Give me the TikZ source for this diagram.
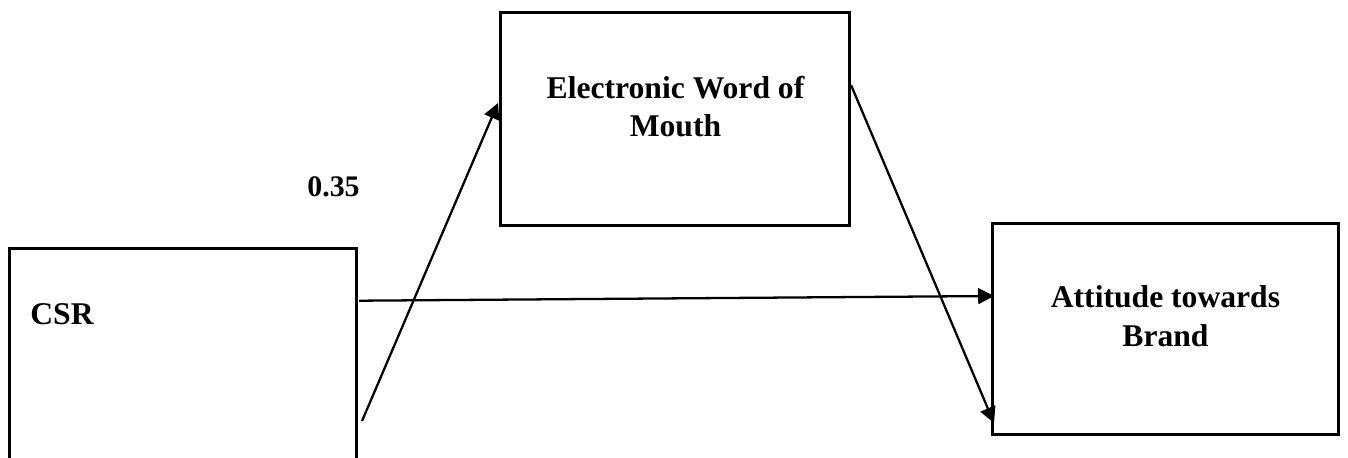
\documentclass[tikz,border=0pt]{standalone}
\usepackage{fontspec}
\setmainfont{Liberation Serif}
\usetikzlibrary{arrows.meta}
\begin{document}
\begin{tikzpicture}[x=0.02cm,y=-0.02cm,
  box/.style={draw=black,line width=1.7pt,rectangle,inner sep=0pt},
  lbl/.style={font=\fontsize{18}{22}\selectfont\bfseries,align=center,inner sep=0pt},
  conn/.style={line width=1.3pt,-{Triangle[length=9pt,width=9pt]}}]
\useasboundingbox (0,0) rectangle (1348,457);
% boxes
\node[box,minimum width=6.96cm,minimum height=4.64cm] (csr) at (183,364) {};
\node[box,minimum width=6.966cm,minimum height=4.246cm] (ewom) at (674.9,118.9) {};
\node[box,minimum width=6.94cm,minimum height=4.24cm] (att) at (1165.5,329) {};
% texts
\node[lbl,anchor=base west] (csrt) at (30,324) {CSR};
\node[lbl] (ewomt) at (675.5,106.5) {Electronic Word of\\Mouth};
\node[lbl] (attt) at (1165.5,316.5) {Attitude towards\\Brand};
\node[font=\fontsize{17}{20}\selectfont\bfseries,anchor=base west,inner sep=0pt] (coef) at (307,196) {0.35};
% connector ends
\coordinate (s1) at (362,421);
\coordinate (e1) at (498,103);
\coordinate (s2) at (359,300.7);
\coordinate (e2) at (994,296);
\coordinate (s3) at (851,85);
\coordinate (e3) at (994,423);
\draw[conn] (s1) -- (e1);
\draw[conn] (s2) -- (e2);
\draw[conn] (s3) -- (e3);
\end{tikzpicture}
\end{document}
